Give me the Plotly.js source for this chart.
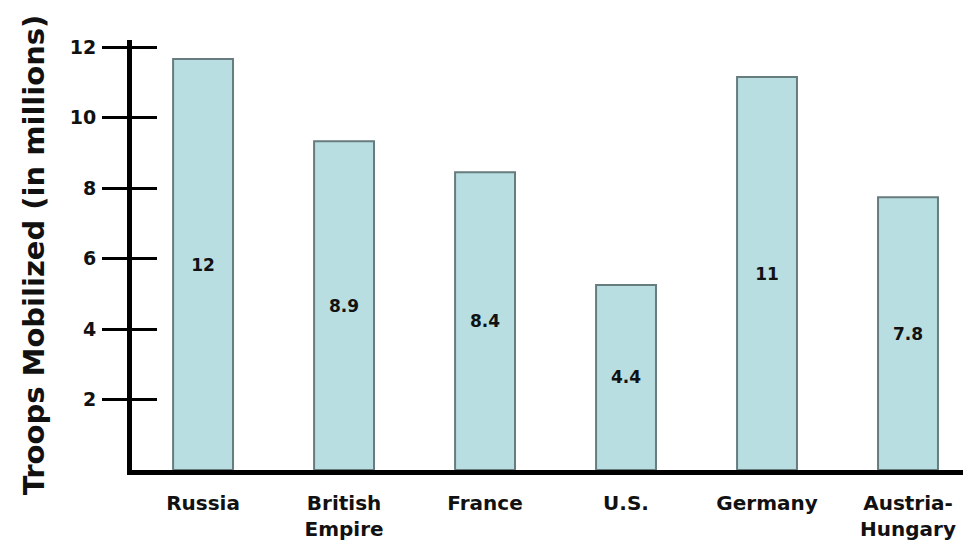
<!DOCTYPE html>
<html>
<head>
<meta charset="utf-8">
<script src="https://cdn.plot.ly/plotly-3.0.1.min.js"></script>
<style>
html,body{margin:0;padding:0;background:#fff;}
#chart{width:963px;height:548px;}
</style>
</head>
<body>
<div id="chart"></div>
<script>
// Categories (tick labels)
const countries = ["Russia", "British<br>Empire", "France", "U.S.", "Germany", "Austria-<br>Hungary"];
// Bar heights as drawn in the picture (millions)
const barHeights = [11.66, 9.33, 8.45, 5.25, 11.15, 7.74];
// Values printed inside the bars
const printedValues = ["12", "8.9", "8.4", "4.4", "11", "7.8"];
// Y tick values
const yTicks = [2, 4, 6, 8, 10, 12];

const font = "DejaVu Sans, Liberation Sans, Arial, sans-serif";

const trace = {
  type: "bar",
  x: countries,
  y: barHeights,
  text: printedValues,
  texttemplate: "%{text}",
  textposition: "inside",
  insidetextanchor: "middle",
  textangle: 0,
  constraintext: "none",
  textfont: {family: font, size: 17, color: "#111", weight: "bold"},
  marker: {color: "#b8dee1", line: {color: "#667c7e", width: 2}},
  hoverinfo: "skip",
  showlegend: false
};

const ghost = {
  type: "scatter", x: [countries[0]], y: [0], yaxis: "y2",
  mode: "none", showlegend: false, hoverinfo: "skip"
};

const layout = {
  width: 963, height: 548,
  margin: {l: 132, r: 0, t: 40, b: 78},
  paper_bgcolor: "#fff", plot_bgcolor: "#fff",
  bargap: 0.575,
  xaxis: {
    type: "category",
    range: [-0.504, 5.39],
    showline: true, linecolor: "#000", linewidth: 5,
    ticks: "", showgrid: false, zeroline: false,
    tickfont: {family: font, size: 20, color: "#111", weight: "bold"},
    ticklabelstandoff: 11
  },
  yaxis: {
    range: [0, 12.2],
    tickvals: yTicks,
    ticks: "outside", ticklen: 25, tickwidth: 3, tickcolor: "#000",
    showline: true, linecolor: "#000", linewidth: 5,
    showgrid: false, zeroline: false,
    tickfont: {family: font, size: 19, color: "#111", weight: "bold"},
    ticklabelstandoff: 2,
    title: {text: "Troops Mobilized (in millions)", standoff: 18,
            font: {family: font, size: 29, color: "#111", weight: "bold"}}
  },
  yaxis2: {
    overlaying: "y", matches: "y", range: [0, 12.2],
    tickvals: yTicks, ticks: "inside", ticklen: 25, tickwidth: 3, tickcolor: "#000",
    showticklabels: false, showgrid: false, zeroline: false, showline: false
  }
};

Plotly.newPlot("chart", [trace, ghost], layout, {displayModeBar: false, staticPlot: true});
</script>
</body>
</html>
